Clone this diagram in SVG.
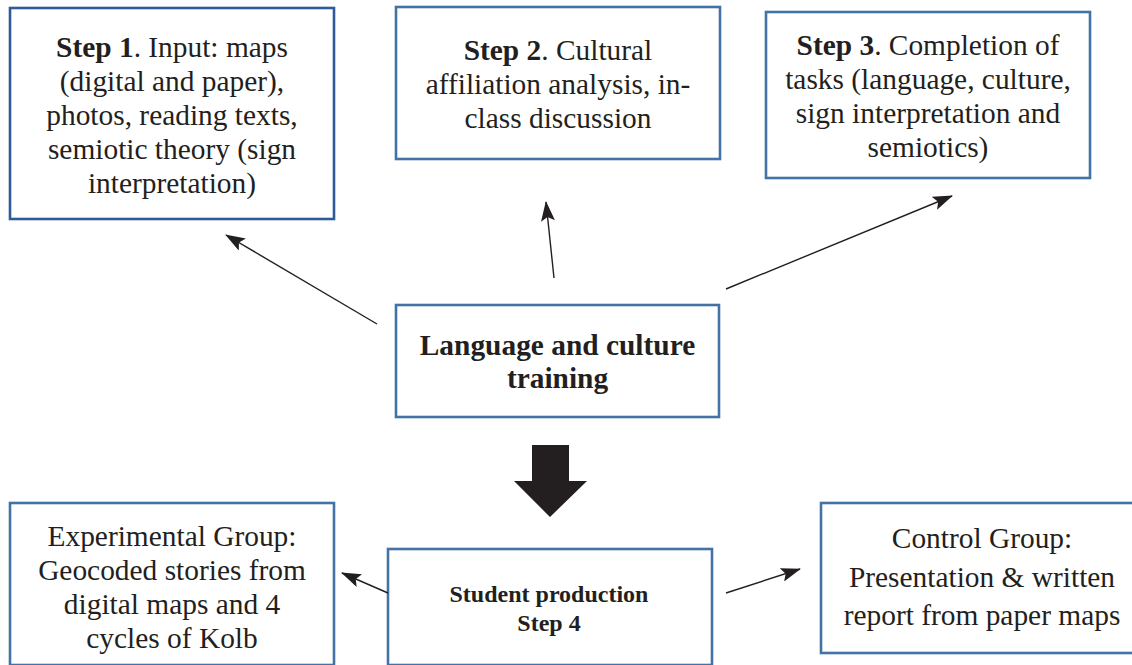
<svg xmlns="http://www.w3.org/2000/svg" width="1132" height="665" viewBox="0 0 1132 665">
  <style>
    .box { fill: #ffffff; stroke: #4373a5; stroke-width: 2.6; }
    .box-dark { stroke: #2f5b99; }
    .t { font-family: 'Liberation Serif', 'Times New Roman', Times, serif; font-size: 29.4px; fill: #231f20; text-anchor: middle; }
    .b { font-weight: bold; }
    .small { font-size: 24px; }
    .link { stroke: #231f20; stroke-width: 1.4; fill: none; marker-end: url(#head); }
  </style>
  <defs>
    <marker id="head" viewBox="0 0 20 14" refX="19" refY="7" markerWidth="20" markerHeight="14" markerUnits="userSpaceOnUse" orient="auto">
      <path d="M0,0 L20,7 L0,14 L4,7 Z" fill="#231f20"/>
    </marker>
  </defs>

  <rect width="1132" height="665" fill="#ffffff"/>

  <g id="step1">
    <rect class="box box-dark" x="10" y="8" width="324" height="211"/>
    <text class="t" x="172" y="57"><tspan class="b">Step 1</tspan>. Input: maps</text>
    <text class="t" x="172" y="91">(digital and paper),</text>
    <text class="t" x="172" y="125">photos, reading texts,</text>
    <text class="t" x="172" y="159">semiotic theory (sign</text>
    <text class="t" x="172" y="193">interpretation)</text>
  </g>

  <g id="step2">
    <rect class="box" x="396" y="7" width="324" height="152"/>
    <text class="t" x="558" y="60"><tspan class="b">Step 2</tspan>. Cultural</text>
    <text class="t" x="558" y="94">affiliation analysis, in-</text>
    <text class="t" x="558" y="128">class discussion</text>
  </g>

  <g id="step3">
    <rect class="box" x="766" y="12" width="324" height="166"/>
    <text class="t" x="928" y="55"><tspan class="b">Step 3</tspan>. Completion of</text>
    <text class="t" x="928" y="89">tasks (language, culture,</text>
    <text class="t" x="928" y="123">sign interpretation and</text>
    <text class="t" x="928" y="157">semiotics)</text>
  </g>

  <g id="training">
    <rect class="box" x="396" y="305" width="323" height="112"/>
    <text class="t b" x="557.5" y="355">Language and culture</text>
    <text class="t b" x="557.5" y="388">training</text>
  </g>

  <g id="experimental">
    <rect class="box" x="10" y="503" width="324" height="162"/>
    <text class="t" x="172" y="546">Experimental Group:</text>
    <text class="t" x="172" y="580">Geocoded stories from</text>
    <text class="t" x="172" y="614">digital maps and 4</text>
    <text class="t" x="172" y="648">cycles of Kolb</text>
  </g>

  <g id="production">
    <rect class="box" x="388" y="549" width="324" height="116"/>
    <text class="t b small" x="549" y="602">Student production</text>
    <text class="t b small" x="549" y="631">Step 4</text>
  </g>

  <g id="control">
    <rect class="box" x="821" y="503" width="322" height="150"/>
    <text class="t" x="982" y="548">Control Group:</text>
    <text class="t" x="982" y="587">Presentation &amp; written</text>
    <text class="t" x="982" y="625">report from paper maps</text>
  </g>

  <g id="connectors">
    <line class="link" x1="377" y1="324" x2="226" y2="235"/>
    <line class="link" x1="554" y1="278" x2="546" y2="202"/>
    <line class="link" x1="726" y1="289" x2="952" y2="196"/>
    <line class="link" x1="388" y1="593" x2="342" y2="573"/>
    <line class="link" x1="726" y1="593" x2="800" y2="569"/>
    <!-- block arrow from training down to production -->
    <path d="M532,445 L569,445 L569,481 L587,481 L550,517 L514,481 L532,481 Z" fill="#231f20"/>
  </g>
</svg>
